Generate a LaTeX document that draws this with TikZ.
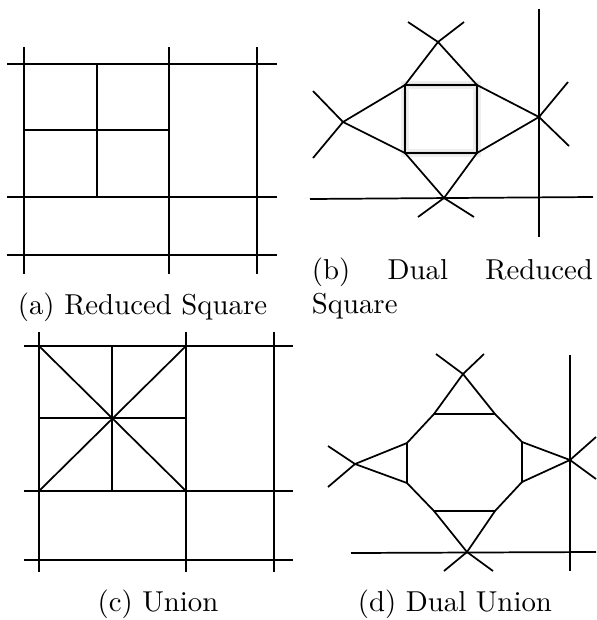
\documentclass[tikz,border=0pt]{standalone}
\usepackage{tikz}
\definecolor{glowgray}{RGB}{226,226,226}

\begin{document}
\begin{tikzpicture}[x=0.34722pt,y=-0.34722pt,line width=0.6pt]
    \tikzset{frame/.style={line width=0.8pt},
             captext/.style={inner sep=0pt,anchor=base west}}
    \useasboundingbox (0,0) rectangle (596,620);
    % (a) reduced square
    \foreach \x in {24,169,257} {\draw (\x,47) -- (\x,274);}
    \foreach \y in {64,197,255} {\draw (7,\y) -- (277,\y);}
    \draw[frame] (24,64) rectangle (169,197);
    \draw (97,64) -- (97,197) (24,130) -- (169,130);
    \node[captext] (capA) at (17,314) {(a) Reduced Square};
    % (b) dual of the reduced square
    \coordinate (bNW) at (405,85);  \coordinate (bNE) at (477,85);
    \coordinate (bSE) at (477,153); \coordinate (bSW) at (405,153);
    \coordinate (bT) at (438,42);  \coordinate (bL) at (343,122);
    \coordinate (bR) at (539,117); \coordinate (bB) at (444,198);
    \draw[glowgray!60,line width=2.6pt] (bNW) rectangle (bSE);
    \draw[glowgray,line width=1.6pt] (bNW) rectangle (bSE);
    \draw (bNW) rectangle (bSE);
    \draw (bNW) -- (bT) -- (bNE) -- (bR) -- (bSE) -- (bB) -- (bSW) -- (bL) -- cycle;
    \draw (408,22) -- (bT) -- (464,22);
    \draw (313,91) -- (bL) -- (313,158);
    \draw (568,82) -- (bR) -- (569,146);
    \draw (418,217) -- (bB) -- (474,217);
    \draw (539,9) -- (539,237);
    \draw (310,199) -- (593,197);
    \node[captext,text width=97.6pt,align=justify] (capB) at (311,279) {(b) Dual Reduced Square};
    % (c) union
    \foreach \x in {39,186,274} {\draw (\x,332) -- (\x,572);}
    \foreach \y in {346,491,560} {\draw (24,\y) -- (293,\y);}
    \draw[frame] (39,346) rectangle (186,491);
    \draw (112,346) -- (112,491) (39,418) -- (186,418);
    \draw (39,346) -- (186,491) (186,346) -- (39,491);
    \node[captext,anchor=base] (capC) at (158,611) {(c) Union};
    % (d) dual of the union
    \coordinate (dT) at (463,374); \coordinate (dL) at (355,464);
    \coordinate (dR) at (570,460); \coordinate (dB) at (467,552);
    \coordinate (d1) at (434,414); \coordinate (d2) at (495,414);
    \coordinate (d3) at (522,442); \coordinate (d4) at (522,482);
    \coordinate (d5) at (495,511); \coordinate (d6) at (434,511);
    \coordinate (d7) at (407,483); \coordinate (d8) at (407,443);
    \draw (d1) -- (d2) -- (d3) -- (d4) -- (d5) -- (d6) -- (d7) -- (d8) -- cycle;
    \draw (d1) -- (dT) -- (d2);
    \draw (d3) -- (dR) -- (d4);
    \draw (d5) -- (dB) -- (d6);
    \draw (d7) -- (dL) -- (d8);
    \draw (436,354) -- (dT) -- (484,354);
    \draw (328,446) -- (dL) -- (328,487);
    \draw (596,437) -- (dR) -- (596,479);
    \draw (444,571) -- (dB) -- (493,571);
    \draw (570,355) -- (570,571);
    \draw (351,553) -- (596,552);
    \node[captext] (capD) at (357,611) {(d) Dual Union};
\end{tikzpicture}
\end{document}
